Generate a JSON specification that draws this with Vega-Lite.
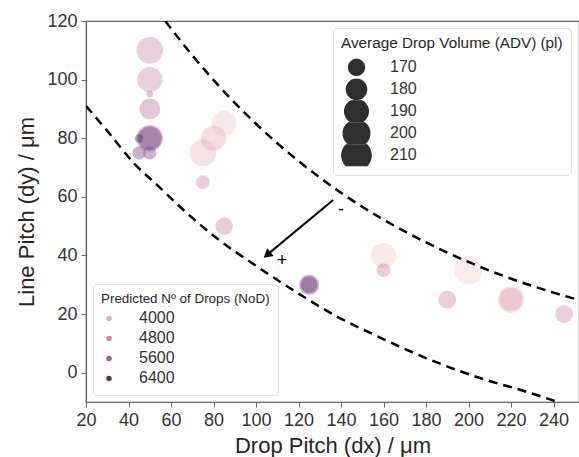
{
  "$schema": "https://vega.github.io/schema/vega-lite/v6.json",
  "width": 493,
  "height": 381,
  "autosize": {"type": "none"},
  "padding": {"left": 86, "top": 21, "right": 0, "bottom": 55},
  "background": "white",
  "config": {
    "font": "Liberation Sans",
    "view": {"stroke": "#666", "strokeWidth": 1.2},
    "axis": {"labelFont": "Liberation Sans", "labelFontSize": 18, "labelColor": "#333", "titleFont": "Liberation Sans", "titleFontSize": 22, "titleFontWeight": "normal", "titleColor": "#262626", "tickColor": "#666", "domainColor": "#666", "tickSize": 5, "grid": false, "domainWidth": 1.2, "labelFlush": false},
    "legend": {"titleFont": "Liberation Sans", "labelFont": "Liberation Sans", "titleFontWeight": "normal", "titleColor": "#262626", "labelColor": "#333", "fillColor": "white", "strokeColor": "#dddddd", "cornerRadius": 4, "padding": 8, "titleLimit": 400}
  },
  "datasets": {
    "pts": [
      {"dx": 50, "dy": 110, "adv": 200, "nod": 4800},
      {"dx": 50, "dy": 100, "adv": 195, "nod": 4800},
      {"dx": 50, "dy": 95, "adv": 156, "nod": 5200},
      {"dx": 50, "dy": 90, "adv": 182, "nod": 5200},
      {"dx": 50, "dy": 80, "adv": 200, "nod": 5600},
      {"dx": 50, "dy": 80, "adv": 190, "nod": 6400},
      {"dx": 45, "dy": 80, "adv": 158, "nod": 6800},
      {"dx": 45, "dy": 75, "adv": 165, "nod": 6000},
      {"dx": 50, "dy": 75, "adv": 165, "nod": 6000},
      {"dx": 85, "dy": 85, "adv": 195, "nod": 3400},
      {"dx": 80, "dy": 80, "adv": 195, "nod": 4000},
      {"dx": 75, "dy": 75, "adv": 200, "nod": 3800},
      {"dx": 75, "dy": 65, "adv": 166, "nod": 4800},
      {"dx": 85, "dy": 50, "adv": 174, "nod": 4800},
      {"dx": 125, "dy": 30, "adv": 180, "nod": 6000},
      {"dx": 125, "dy": 30, "adv": 172, "nod": 6400},
      {"dx": 160, "dy": 40, "adv": 195, "nod": 3400},
      {"dx": 160, "dy": 35, "adv": 166, "nod": 4800},
      {"dx": 200, "dy": 35, "adv": 207, "nod": 3200},
      {"dx": 190, "dy": 25, "adv": 174, "nod": 4800},
      {"dx": 220, "dy": 25, "adv": 200, "nod": 3800},
      {"dx": 220, "dy": 25, "adv": 188, "nod": 4200},
      {"dx": 245, "dy": 20, "adv": 174, "nod": 4800}
    ],
    "curves": [
      {"curve": "upper", "dx": 57.3, "dy": 120},
      {"curve": "upper", "dx": 70, "dy": 108.3},
      {"curve": "upper", "dx": 90, "dy": 92.1},
      {"curve": "upper", "dx": 110, "dy": 78.3},
      {"curve": "upper", "dx": 130, "dy": 66.6},
      {"curve": "upper", "dx": 150, "dy": 56.6},
      {"curve": "upper", "dx": 170, "dy": 48.2},
      {"curve": "upper", "dx": 190, "dy": 41},
      {"curve": "upper", "dx": 210, "dy": 34.8},
      {"curve": "upper", "dx": 230, "dy": 29.6},
      {"curve": "upper", "dx": 253, "dy": 24.6},
      {"curve": "lower", "dx": 20, "dy": 91},
      {"curve": "lower", "dx": 30, "dy": 82.5},
      {"curve": "lower", "dx": 42.4, "dy": 71.6},
      {"curve": "lower", "dx": 55, "dy": 63},
      {"curve": "lower", "dx": 65.9, "dy": 55.5},
      {"curve": "lower", "dx": 80.8, "dy": 46.3},
      {"curve": "lower", "dx": 102, "dy": 35.5},
      {"curve": "lower", "dx": 120, "dy": 27},
      {"curve": "lower", "dx": 136, "dy": 20},
      {"curve": "lower", "dx": 158.4, "dy": 12},
      {"curve": "lower", "dx": 180, "dy": 5},
      {"curve": "lower", "dx": 207, "dy": -2.2},
      {"curve": "lower", "dx": 225, "dy": -6},
      {"curve": "lower", "dx": 242, "dy": -10}
    ],
    "arrow": [
      {"dx": 136.3, "dy": 58.9},
      {"dx": 105.2, "dy": 40.2}
    ],
    "head": [
      {"dx": 105.2, "dy": 40.2}
    ],
    "signs": [
      {"dx": 140, "dy": 55.5, "label": "-"},
      {"dx": 112.2, "dy": 38.2, "label": "+"}
    ]
  },
  "layer": [
    {
      "data": {"name": "pts"},
      "mark": {"type": "circle", "opacity": 0.4, "clip": true},
      "encoding": {
        "x": {"field": "dx", "type": "quantitative", "scale": {"domain": [20, 252], "nice": false, "zero": false}, "axis": {"values": [20, 40, 60, 80, 100, 120, 140, 160, 180, 200, 220, 240], "title": "Drop Pitch (dx) / μm", "labelPadding": 4, "titlePadding": 6}},
        "y": {"field": "dy", "type": "quantitative", "scale": {"domain": [-10, 120], "nice": false, "zero": false}, "axis": {"values": [0, 20, 40, 60, 80, 100, 120], "title": "Line Pitch (dy) / μm", "labelPadding": 4, "titlePadding": 8}},
        "size": {"field": "adv", "type": "quantitative", "scale": {"domain": [156, 210], "range": [44, 855], "zero": false}, "legend": {"title": "Average Drop Volume (ADV) (pl)", "values": [170, 180, 190, 200, 210], "orient": "none", "legendX": 247, "legendY": 7, "titleFontSize": 15.3, "labelFontSize": 16, "symbolFillColor": "#2f2f2f", "symbolStrokeColor": "#2f2f2f", "symbolOpacity": 1, "symbolType": "circle", "labelOffset": 18, "rowPadding": 0, "clipHeight": 22, "direction": "vertical", "format": "d"}},
        "color": {"field": "nod", "type": "quantitative", "scale": {"domain": [3200, 4000, 4800, 5600, 6400, 7000], "range": ["#efd0ca", "#e5a9b4", "#cc84a6", "#9f5897", "#5e2e6b", "#3a2050"]}, "legend": {"type": "symbol", "title": "Predicted Nº of Drops (NoD)", "values": [4000, 4800, 5600, 6400], "orient": "none", "legendX": 7, "legendY": 263, "titleFontSize": 13.4, "labelFontSize": 16, "symbolSize": 30, "symbolOpacity": 1, "symbolType": "circle", "labelOffset": 22, "rowPadding": 4, "direction": "vertical", "format": "d"}}
      }
    },
    {
      "data": {"name": "curves"},
      "mark": {"type": "line", "color": "black", "strokeWidth": 2.5, "strokeDash": [9, 6], "interpolate": "monotone", "clip": true},
      "encoding": {
        "x": {"field": "dx", "type": "quantitative"},
        "y": {"field": "dy", "type": "quantitative"},
        "detail": {"field": "curve"}
      }
    },
    {
      "data": {"name": "arrow"},
      "mark": {"type": "line", "color": "black", "strokeWidth": 2},
      "encoding": {
        "x": {"field": "dx", "type": "quantitative"},
        "y": {"field": "dy", "type": "quantitative"}
      }
    },
    {
      "data": {"name": "head"},
      "mark": {"type": "point", "shape": "triangle-up", "filled": true, "color": "black", "opacity": 1, "size": 100, "angle": 230},
      "encoding": {
        "x": {"field": "dx", "type": "quantitative"},
        "y": {"field": "dy", "type": "quantitative"}
      }
    },
    {
      "data": {"name": "signs"},
      "mark": {"type": "text", "fontSize": 18, "color": "black", "font": "Liberation Sans"},
      "encoding": {
        "x": {"field": "dx", "type": "quantitative"},
        "y": {"field": "dy", "type": "quantitative"},
        "text": {"field": "label"}
      }
    }
  ]
}
